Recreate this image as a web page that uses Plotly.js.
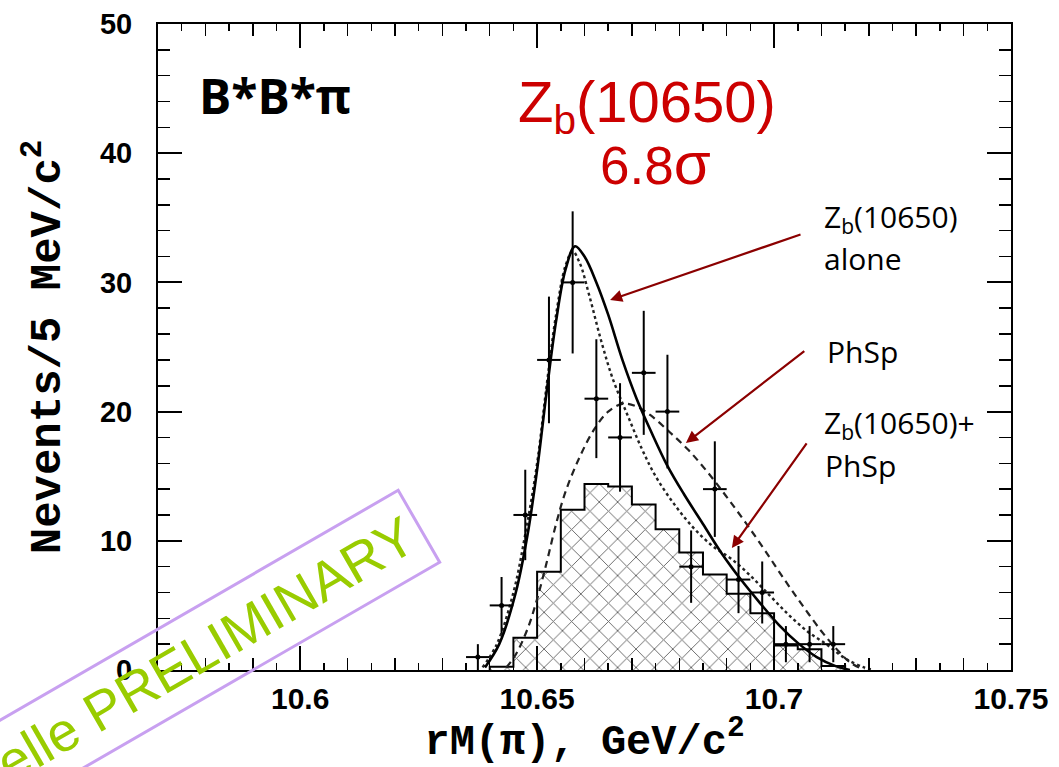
<!DOCTYPE html>
<html>
<head>
<meta charset="utf-8">
<script src="https://cdn.plot.ly/plotly-3.0.1.min.js"></script>
<style>html,body{margin:0;padding:0;background:#fff;}#chart{width:1059px;height:767px;}</style>
</head>
<body>
<div id="chart"></div>
<script>
// ---- data points (bin centres, counts, stat. errors) ----
const dataX = [10.6375, 10.6425, 10.6475, 10.6525, 10.6575, 10.6625, 10.6675, 10.6725,
               10.6775, 10.6825, 10.6875, 10.6925, 10.6975, 10.7025, 10.7075, 10.7125];
const dataY = [1, 5, 12, 24, 30, 21, 18, 23, 20, 8, 14, 7, 6, 2, 2, 2];
const dataErr = [1.0, 2.2, 3.5, 4.9, 5.5, 4.6, 4.2, 4.8, 4.4, 2.8, 3.7, 2.6, 2.4, 1.4, 1.4, 1.4];
const binHalf = 0.0025;

// ---- hatched histogram ----
const histX = [10.6425, 10.6475, 10.6525, 10.6575, 10.6625, 10.6675, 10.6725, 10.6775,
               10.6825, 10.6875, 10.6925, 10.6975, 10.7025, 10.7075, 10.7125];
const histY = [0.25, 2.5, 7.6, 12.4, 14.4, 14.2, 12.8, 10.9, 9.1, 7.4, 5.9, 4.4, 1.9, 1.6, 0.3];

// ---- fit curves ----
const totX = [10.639, 10.642, 10.6455, 10.648, 10.650, 10.652, 10.654, 10.656, 10.658, 10.660,
              10.6625, 10.665, 10.668, 10.671, 10.674, 10.6775, 10.681, 10.685, 10.689, 10.693,
              10.697, 10.701, 10.705, 10.709, 10.713, 10.716];
const totY = [0.2, 2.0, 6.0, 10.5, 15.5, 21.5, 27.0, 31.0, 32.8, 32.0,
              30.0, 27.5, 24.0, 21.0, 18.5, 15.8, 13.6, 11.3, 9.0, 7.0,
              5.2, 3.5, 2.1, 1.0, 0.3, 0.0];

const zbX = [10.6385, 10.6415, 10.645, 10.6475, 10.650, 10.652, 10.654, 10.656, 10.6575, 10.659,
             10.661, 10.6635, 10.666, 10.669, 10.672, 10.675, 10.679, 10.683, 10.687, 10.691,
             10.695, 10.699, 10.703, 10.707, 10.711, 10.715, 10.719, 10.721];
const zbY = [0.2, 2.0, 6.0, 10.5, 16.0, 22.0, 27.5, 31.3, 32.4, 31.5,
             29.0, 25.5, 22.5, 19.8, 17.2, 15.0, 12.8, 11.0, 9.6, 8.6,
             7.3, 5.8, 4.3, 3.0, 2.0, 0.9, 0.2, 0.0];

const phspX = [10.6435, 10.6455, 10.648, 10.650, 10.652, 10.654, 10.656, 10.659, 10.662, 10.665,
               10.668, 10.671, 10.674, 10.678, 10.682, 10.686, 10.690, 10.694, 10.698, 10.702,
               10.706, 10.710, 10.713, 10.716, 10.719];
const phspY = [0.2, 1.2, 3.2, 5.5, 8.3, 11.3, 13.8, 16.5, 18.6, 20.0,
               20.6, 20.4, 19.7, 18.4, 17.0, 15.3, 13.4, 11.4, 9.3, 7.1,
               5.0, 3.0, 1.7, 0.6, 0.0];

// ---- axes ticks ----
const xTickVals = [10.6, 10.65, 10.7, 10.75];
const xTickText = ['10.6', '10.65', '10.7', '10.75'];
const yTickVals = [0, 10, 20, 30, 40, 50];
const yTickText = ['0', '10', '20', '30', '40', '50'];

// step outline built from histogram bins
const stepX = [histX[0] - binHalf];
const stepY = [0];
histX.forEach((c, i) => { stepX.push(c - binHalf); stepY.push(histY[i]); });
stepX.push(histX[histX.length - 1] + binHalf); stepY.push(0);

const XR = [10.57, 10.75];
const YR = [0, 50];

const traces = [
  {type: 'bar', x: histX, y: histY, width: binHalf * 2,
   marker: {color: 'white', line: {width: 0},
            pattern: {shape: 'x', fgcolor: '#666666', bgcolor: 'white', size: 13, solidity: 0.14}},
   hoverinfo: 'skip'},
  {type: 'scatter', mode: 'lines', x: stepX, y: stepY,
   line: {shape: 'hv', color: 'black', width: 2}, hoverinfo: 'skip'},
  {type: 'scatter', mode: 'lines', x: phspX, y: phspY,
   line: {shape: 'spline', color: '#222', width: 2.2, dash: '7px,5px'}},
  {type: 'scatter', mode: 'lines', x: zbX, y: zbY,
   line: {shape: 'spline', color: '#222', width: 2.4, dash: 'dot'}},
  {type: 'scatter', mode: 'lines', x: totX, y: totY,
   line: {shape: 'spline', color: 'black', width: 2.6}},
  {type: 'scatter', mode: 'markers', x: dataX, y: dataY,
   marker: {color: 'black', size: 5},
   error_x: {type: 'constant', value: binHalf, thickness: 2, width: 0, color: 'black'},
   error_y: {type: 'data', array: dataErr, thickness: 2, width: 0, color: 'black'}},
  {type: 'scatter', mode: 'markers', x: [10.6], y: [0], xaxis: 'x2', yaxis: 'y',
   marker: {opacity: 0}, hoverinfo: 'skip'}
];

function px2paperX(p) { return (p - 158) / 853; }
function px2paperY(p) { return (670 - p) / 646; }

const lblFont = {family: 'Open Sans', size: 30, color: 'black'};
const red = '#cc0000';
const arrowCol = '#8b0000';

const annotations = [
  {xref: 'paper', yref: 'paper', x: px2paperX(197), y: px2paperY(96), xanchor: 'left', yanchor: 'middle',
   text: 'B*B*π', showarrow: false, font: {family: 'Open Sans', size: 48, color: 'black', weight: 'bold'}},
  {xref: 'paper', yref: 'paper', x: px2paperX(516), y: px2paperY(106), xanchor: 'left', yanchor: 'middle',
   text: 'Z<sub>b</sub>(10650)', showarrow: false, font: {family: 'Liberation Sans', size: 58, color: red}},
  {xref: 'paper', yref: 'paper', x: px2paperX(598), y: px2paperY(163), xanchor: 'left', yanchor: 'middle',
   text: '6.8<span style="font-size:60px">σ</span>', showarrow: false,
   font: {family: 'Liberation Sans', size: 53, color: red}},
  {xref: 'paper', yref: 'paper', x: px2paperX(822), y: px2paperY(218), xanchor: 'left', yanchor: 'middle',
   text: 'Z<sub>b</sub>(10650)', showarrow: false, font: lblFont},
  {xref: 'paper', yref: 'paper', x: px2paperX(822), y: px2paperY(258), xanchor: 'left', yanchor: 'middle',
   text: 'alone', showarrow: false, font: lblFont},
  {xref: 'paper', yref: 'paper', x: px2paperX(825), y: px2paperY(351), xanchor: 'left', yanchor: 'middle',
   text: 'PhSp', showarrow: false, font: lblFont},
  {xref: 'paper', yref: 'paper', x: px2paperX(822), y: px2paperY(424), xanchor: 'left', yanchor: 'middle',
   text: 'Z<sub>b</sub>(10650)+', showarrow: false, font: lblFont},
  {xref: 'paper', yref: 'paper', x: px2paperX(823), y: px2paperY(465), xanchor: 'left', yanchor: 'middle',
   text: 'PhSp', showarrow: false, font: lblFont},
  // arrows
  {xref: 'x', yref: 'y', axref: 'x', ayref: 'y', x: 10.6654, y: 28.64, ax: 10.7059, ay: 33.75,
   text: '', showarrow: true, arrowhead: 2, arrowsize: 1.1, arrowwidth: 2.2, arrowcolor: arrowCol},
  {xref: 'x', yref: 'y', axref: 'x', ayref: 'y', x: 10.6814, y: 17.57, ax: 10.7067, ay: 24.77,
   text: '', showarrow: true, arrowhead: 2, arrowsize: 1.1, arrowwidth: 2.2, arrowcolor: arrowCol},
  {xref: 'x', yref: 'y', axref: 'x', ayref: 'y', x: 10.6911, y: 9.44, ax: 10.7071, ay: 17.65,
   text: '', showarrow: true, arrowhead: 2, arrowsize: 1.1, arrowwidth: 2.2, arrowcolor: arrowCol},
  // stamp
  {xref: 'paper', yref: 'paper', x: px2paperX(189), y: px2paperY(659), xanchor: 'center', yanchor: 'middle',
   text: 'Belle PRELIMINARY', showarrow: false, textangle: -30,
   font: {family: 'Liberation Sans', size: 55, color: '#99cc00'},
   bordercolor: '#c8a0f0', borderwidth: 3, borderpad: 9}
];

const layout = {
  width: 1059, height: 767,
  margin: {l: 158, r: 48, t: 24, b: 97},
  paper_bgcolor: 'white', plot_bgcolor: 'white',
  showlegend: false, bargap: 0, hovermode: false,
  xaxis: {
    range: XR, tickmode: 'array', tickvals: xTickVals, ticktext: xTickText,
    ticks: 'inside', ticklen: 24, tickwidth: 2, tickcolor: 'black',
    showline: true, linewidth: 2, linecolor: 'black', mirror: 'ticks',
    showgrid: false, zeroline: false, ticklabelstandoff: 1,
    tickfont: {family: 'Liberation Sans', size: 30, color: 'black', weight: 'bold'},
    minor: {tickmode: 'linear', tick0: 10.6, dtick: 0.005, ticks: 'inside', ticklen: 7, tickwidth: 1.5,
            tickcolor: 'black', showgrid: false},
    title: {text: 'rM(π), GeV/c<sup>2</sup>', standoff: 22,
            font: {family: 'Liberation Mono', size: 42, color: 'black', weight: 'bold'}}
  },
  xaxis2: {
    range: XR, overlaying: 'x', anchor: 'y', side: 'bottom',
    tickmode: 'linear', tick0: 10.6, dtick: 0.01,
    ticks: 'inside', ticklen: 12, tickwidth: 1.5, tickcolor: 'black', mirror: 'ticks',
    showline: false, showgrid: false, zeroline: false, showticklabels: false
  },
  yaxis: {
    range: YR, tickmode: 'array', tickvals: yTickVals, ticktext: yTickText,
    ticks: 'inside', ticklen: 24, tickwidth: 2, tickcolor: 'black',
    showline: true, linewidth: 2, linecolor: 'black', mirror: 'ticks',
    showgrid: false, zeroline: false, ticklabelstandoff: 18,
    tickfont: {family: 'Liberation Sans', size: 29, color: 'black', weight: 'bold'},
    minor: {tickmode: 'linear', tick0: 0, dtick: 2, ticks: 'inside', ticklen: 12, tickwidth: 1.5,
            tickcolor: 'black', showgrid: false},
    title: {text: 'Nevents/5 MeV/c<sup>2</sup>', standoff: 26,
            font: {family: 'Liberation Mono', size: 44, color: 'black', weight: 'bold'}}
  },
  annotations: annotations
};

Plotly.newPlot('chart', traces, layout, {displayModeBar: false, staticPlot: true});
</script>
</body>
</html>
